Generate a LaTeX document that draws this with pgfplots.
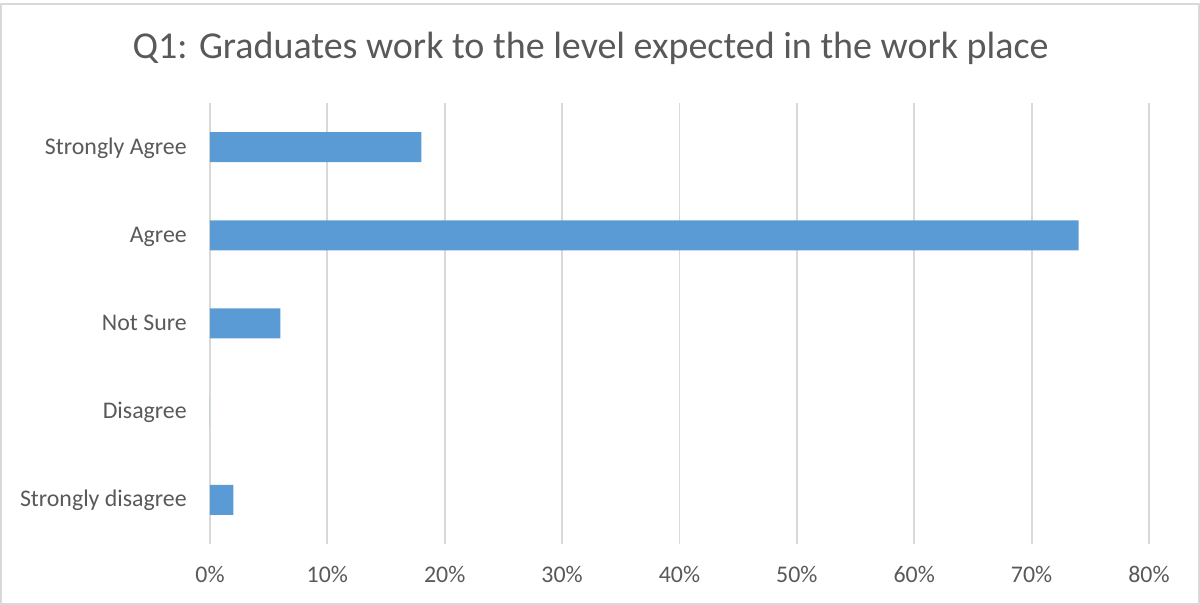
\documentclass[border=0pt]{standalone}
\usepackage{fontspec}
\setmainfont{Carlito}
\usepackage{pgfplots}
\pgfplotsset{compat=1.18}
\definecolor{barblue}{HTML}{5B9BD5}
\definecolor{gridgray}{HTML}{D9D9D9}
\definecolor{txt}{HTML}{595959}
\begin{document}
\begin{tikzpicture}
\useasboundingbox (-157.5pt,-45.75pt) rectangle (742.5pt,408pt);
\draw[gridgray, line width=1.2pt] (-156.75pt,-45pt) rectangle (741.75pt,405pt);
\node[anchor=base, text=txt, font=\fontsize{28.5pt}{34pt}\selectfont, inner sep=0pt] at (285.4pt,363.75pt) {Q1: Graduates work to the level expected in the work place};
\begin{axis}[
  at={(0,0)}, anchor=south west, scale only axis,
  width=704.25pt, height=330.75pt,
  xmin=0, xmax=80, ymin=-0.5, ymax=4.5,
  xbar, bar width=22.5pt,
  axis line style={draw=none},
  major tick length=0pt,
  xmajorgrids, ymajorgrids=false,
  grid style={gridgray, line width=1.4pt},
  xtick={0,10,...,80},
  xticklabels={0\%,10\%,20\%,30\%,40\%,50\%,60\%,70\%,80\%},
  ytick={0,1,2,3,4},
  yticklabels={Strongly disagree,Disagree,Not Sure,Agree,Strongly Agree},
  xticklabel style={anchor=base, yshift=-29.25pt, inner sep=0pt, text=txt, font=\fontsize{17.9pt}{21pt}\selectfont},
  yticklabel style={anchor=base east, yshift=-5.25pt, xshift=-17.25pt, inner sep=0pt, text=txt, font=\fontsize{17.9pt}{21pt}\selectfont},
]
\addplot[fill=barblue, draw=none] coordinates {(18,4) (74,3) (6,2) (0,1) (2,0)};
\end{axis}
\end{tikzpicture}
\end{document}
